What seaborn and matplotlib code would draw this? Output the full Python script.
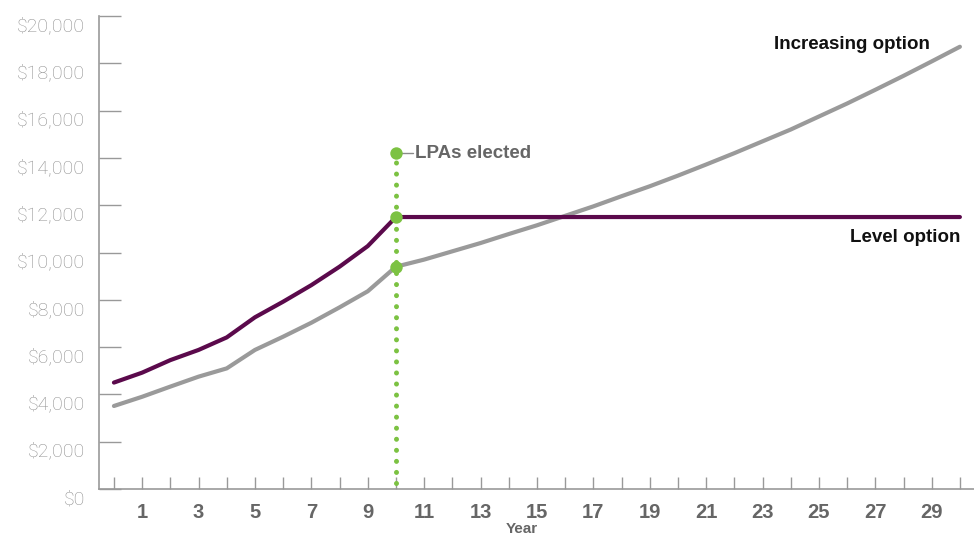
import matplotlib
matplotlib.use("Agg")
import matplotlib.pyplot as plt
import matplotlib.transforms as mtransforms
import seaborn as sns
import pandas as pd

# ---- data ----
years = list(range(0, 31))
increasing_values = [3510, 3900, 4330, 4750, 5100, 5880, 6440, 7030, 7680, 8360, 9400,
                     9700, 10050, 10400, 10780, 11150, 11550, 11950, 12380, 12800, 13250,
                     13720, 14200, 14700, 15200, 15750, 16300, 16880, 17470, 18080, 18700]
level_values = [4500, 4920, 5450, 5880, 6410, 7260, 7920, 8620, 9400, 10270, 11500,
                11500, 11500, 11500, 11500, 11500, 11500, 11500, 11500, 11500, 11500,
                11500, 11500, 11500, 11500, 11500, 11500, 11500, 11500, 11500, 11500]
election_year = 10
election_marker_top = 14200
x_tick_labels = [str(v) for v in range(1, 30, 2)]
y_tick_values = list(range(0, 20001, 2000))

df = pd.DataFrame({"Year": years + years,
                   "Value": increasing_values + level_values,
                   "Option": ["Increasing option"] * len(years) + ["Level option"] * len(years)})

sns.set_theme(style="white")
plt.rcParams["font.family"] = ["Liberation Sans Narrow", "Liberation Sans", "DejaVu Sans"]

PURPLE = "#5b0a4c"
GREY = "#9a9a9a"
GREEN = "#7cc242"
AXIS = "#999999"

fig = plt.figure(figsize=(9.74, 5.38), dpi=100)
ax = fig.add_axes([99 / 974, 1 - 489 / 538, 1 - 99 / 974, (489 - 16) / 538])

sns.lineplot(data=df, x="Year", y="Value", hue="Option",
             palette={"Increasing option": GREY, "Level option": PURPLE},
             linewidth=3, legend=False, ax=ax, zorder=3)

# dotted green election line
ax.plot([election_year, election_year], [250, election_marker_top], color=GREEN, lw=3.6,
        linestyle=(0, (0.01, 2.2)), dash_capstyle="round", zorder=4)
ax.scatter([election_year] * 3,
           [election_marker_top, level_values[election_year], increasing_values[election_year]],
           s=80, color=GREEN, zorder=5, linewidths=0)
ax.plot([election_year, election_year + 0.62], [election_marker_top] * 2, color="#8a8a8a", lw=1, zorder=4)
ax.text(election_year + 0.68, election_marker_top, "LPAs elected", ha="left", va="center",
        fontsize=13.5, fontweight="bold", color="#666666")

ax.text(28.95, 18800, "Increasing option", ha="right", va="center",
        fontsize=13.5, fontweight="bold", color="#111111")
ax.text(30.0, 10620, "Level option", ha="right", va="center",
        fontsize=13.5, fontweight="bold", color="#111111")

ax.set_xlim(-0.53, 30.5)
ax.set_ylim(0, 20000)

ax.set_xticks(list(range(1, 30, 2)))
ax.set_xticklabels(x_tick_labels)
ax.set_xticks(list(range(0, 31)), minor=True)
ax.set_yticks(y_tick_values)
ax.set_yticklabels(["${:,}".format(v) for v in y_tick_values])

ax.tick_params(axis="x", which="both", bottom=True, direction="in", length=9, width=1, color=AXIS,
               pad=10, labelsize=14.5, labelcolor="#666666")
ax.tick_params(axis="y", which="major", left=True, direction="in", length=16, width=1, color=AXIS,
               pad=10, labelsize=14, labelcolor="#8e8e8e")
for lab in ax.get_xticklabels():
    lab.set_fontweight("bold")
for lab in ax.get_yticklabels():
    lab.set_family(["Roboto", "DejaVu Sans"])
    lab.set_fontweight("light")
    lab.set_transform(lab.get_transform() + mtransforms.ScaledTranslation(0, -8 / 100, fig.dpi_scale_trans))

ax.set_xlabel("")
ax.set_ylabel("")
ax.text(14.45, -0.085, "Year", transform=mtransforms.blended_transform_factory(ax.transData, ax.transAxes),
        ha="center", va="center", fontsize=11, fontweight="bold", color="#666666")

for side in ["top", "right"]:
    ax.spines[side].set_visible(False)
for side in ["left", "bottom"]:
    ax.spines[side].set_color(AXIS)
    ax.spines[side].set_linewidth(1.2)

fig.savefig("out.png", dpi=100)
